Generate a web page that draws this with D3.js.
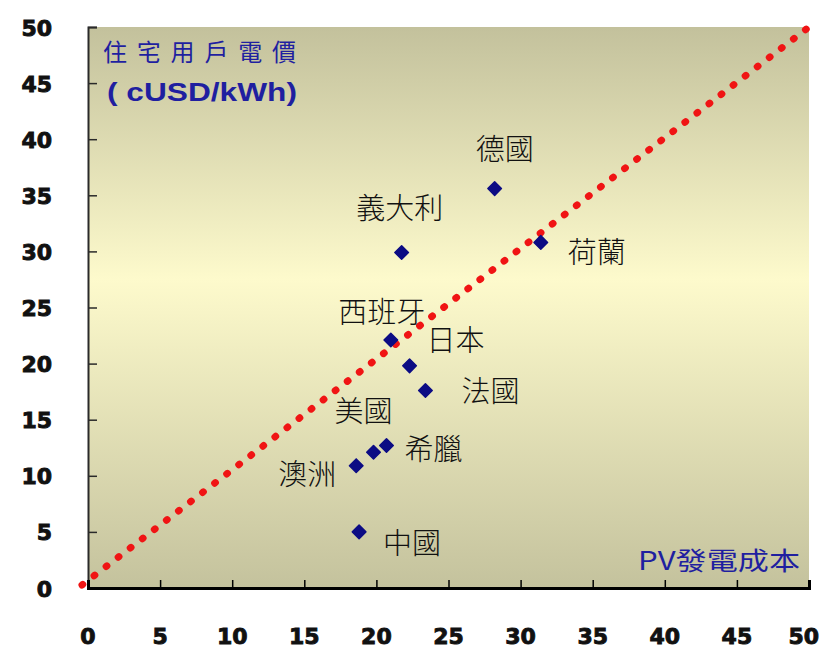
<!DOCTYPE html>
<html>
<head>
<meta charset="utf-8">
<script src="https://cdn.jsdelivr.net/npm/d3@7/dist/d3.min.js"></script>
<style>
  html, body { margin: 0; padding: 0; background: #ffffff; }
  svg { display: block; }
</style>
</head>
<body>
<svg id="chart" width="821" height="650"></svg>
<script>
// Residential electricity price vs. PV generation cost, by country (cUSD/kWh)
const countries = ["德國", "義大利", "荷蘭", "西班牙", "日本", "法國", "美國", "希臘", "澳洲", "中國"];
const pvCost    = [28.2, 21.75, 31.4, 21.0, 22.3, 23.4, 19.8, 20.7, 18.6, 18.8];
const homePrice = [35.6, 29.9, 30.8, 22.1, 19.8, 17.6, 12.1, 12.7, 10.9, 5.0];
const tickValues = [0, 5, 10, 15, 20, 25, 30, 35, 40, 45, 50];
const yTitle = ["住宅用戶電價", "( cUSD/kWh)"];
const xTitle = "PV發電成本";

const svg = d3.select("#chart");
const plotLeft = 88, plotRight = 809, plotTop = 27, plotBottom = 588;

const x = d3.scaleLinear().domain([0, 50]).range([plotLeft, plotRight]);
const y = d3.scaleLinear().domain([0, 50]).range([plotBottom, plotTop]);

// plot background: olive at the edges, pale yellow in the middle
const defs = svg.append("defs");
const grad = defs.append("linearGradient")
  .attr("id", "bg").attr("x1", 0).attr("y1", 0).attr("x2", 0).attr("y2", 1);
grad.append("stop").attr("offset", "0%").attr("stop-color", "#c3c19c");
grad.append("stop").attr("offset", "45%").attr("stop-color", "#fdfacc");
grad.append("stop").attr("offset", "100%").attr("stop-color", "#c4c29d");

svg.append("rect")
  .attr("x", plotLeft).attr("y", plotTop)
  .attr("width", plotRight - plotLeft).attr("height", plotBottom - plotTop)
  .attr("fill", "url(#bg)");

// axes with inward ticks
const numFont = "'DejaVu Sans', sans-serif";
const yAxis = svg.append("g")
  .attr("transform", `translate(${plotLeft},0)`)
  .call(d3.axisRight(y).tickValues(tickValues).tickSize(9).tickFormat(""));
yAxis.select(".domain").attr("stroke", "#2a2a2a").attr("stroke-width", 2);
yAxis.selectAll(".tick line").attr("stroke", "#2a2a2a").attr("stroke-width", 1.5);

const xAxis = svg.append("g")
  .attr("transform", `translate(0,${plotBottom})`)
  .call(d3.axisTop(x).tickValues(tickValues).tickSize(8).tickFormat(""));
xAxis.select(".domain").attr("stroke", "#000").attr("stroke-width", 3);
xAxis.selectAll(".tick line").attr("stroke", "#000").attr("stroke-width", 1.5);

// tick labels (heavy numerals)
function heavy(sel) {
  sel.attr("font-family", numFont).attr("font-weight", "bold").attr("font-size", 22)
    .attr("fill", "#111").attr("stroke", "#111").attr("stroke-width", 0.9)
    .attr("paint-order", "stroke");
}
svg.append("g").selectAll("text")
  .data(tickValues).join("text")
  .attr("x", 52).attr("y", d => y(d) + 1)
  .attr("text-anchor", "end").attr("dominant-baseline", "central")
  .call(heavy)
  .text(d => d);

svg.append("g").selectAll("text")
  .data(tickValues).join("text")
  .attr("x", (d, i) => i === tickValues.length - 1 ? 819 : x(d))
  .attr("y", 636)
  .attr("text-anchor", (d, i) => i === tickValues.length - 1 ? "end" : "middle")
  .attr("dominant-baseline", "central")
  .call(heavy)
  .text(d => d);

// parity line y = x
svg.append("line")
  .attr("x1", x(0) - 6).attr("y1", y(0) - 3)
  .attr("x2", x(50)).attr("y2", y(50))
  .attr("stroke", "#f01414").attr("stroke-width", 7)
  .attr("stroke-linecap", "round")
  .attr("stroke-dasharray", "1 14.2");

// country points
const pts = countries.map((c, i) => ({ name: c, px: pvCost[i], py: homePrice[i] }));
const marker = d3.symbol().type(d3.symbolSquare).size(92);
svg.append("g").selectAll("path")
  .data(pts).join("path")
  .attr("transform", d => `translate(${x(d.px)},${y(d.py)}) rotate(45)`)
  .attr("d", marker)
  .attr("fill", "#0c0c84")
  .attr("stroke", "#0c0c84").attr("stroke-width", 1.5).attr("stroke-linejoin", "round");

// label placement around each point
const labelOffset = {
  "德國": [10, -42], "義大利": [-2, -47], "荷蘭": [56, 8], "西班牙": [-9, -30],
  "日本": [46, -28], "法國": [65, -2], "美國": [-10, -43], "希臘": [47, 1],
  "澳洲": [-49, 6], "中國": [53, 9]
};
const cjk = "'Noto Sans CJK TC', 'Noto Sans CJK SC', sans-serif";
svg.append("g").selectAll("text")
  .data(pts).join("text")
  .attr("x", d => x(d.px) + labelOffset[d.name][0])
  .attr("y", d => y(d.py) + labelOffset[d.name][1])
  .attr("text-anchor", "middle").attr("dominant-baseline", "central")
  .attr("font-family", cjk).attr("font-weight", 300).attr("font-size", 29)
  .attr("fill", "#111")
  .text(d => d.name);

// axis titles
svg.append("text")
  .attr("x", 103).attr("y", 50)
  .attr("dominant-baseline", "central")
  .attr("font-family", cjk).attr("font-size", 24)
  .attr("textLength", 193).attr("lengthAdjust", "spacing")
  .attr("fill", "#1f1fa0")
  .text(yTitle[0]);

svg.append("text")
  .attr("x", 107).attr("y", 92)
  .attr("dominant-baseline", "central")
  .attr("font-family", "'Liberation Sans', Arial, sans-serif").attr("font-weight", "bold").attr("font-size", 26)
  .attr("textLength", 190).attr("lengthAdjust", "spacingAndGlyphs")
  .attr("fill", "#1f1fa0")
  .text(yTitle[1]);

svg.append("text")
  .attr("x", 638).attr("y", 559)
  .attr("dominant-baseline", "central")
  .attr("font-family", cjk).attr("font-size", 25)
  .attr("textLength", 162).attr("lengthAdjust", "spacingAndGlyphs")
  .attr("fill", "#1f1fa0")
  .text(xTitle);
</script>
</body>
</html>
